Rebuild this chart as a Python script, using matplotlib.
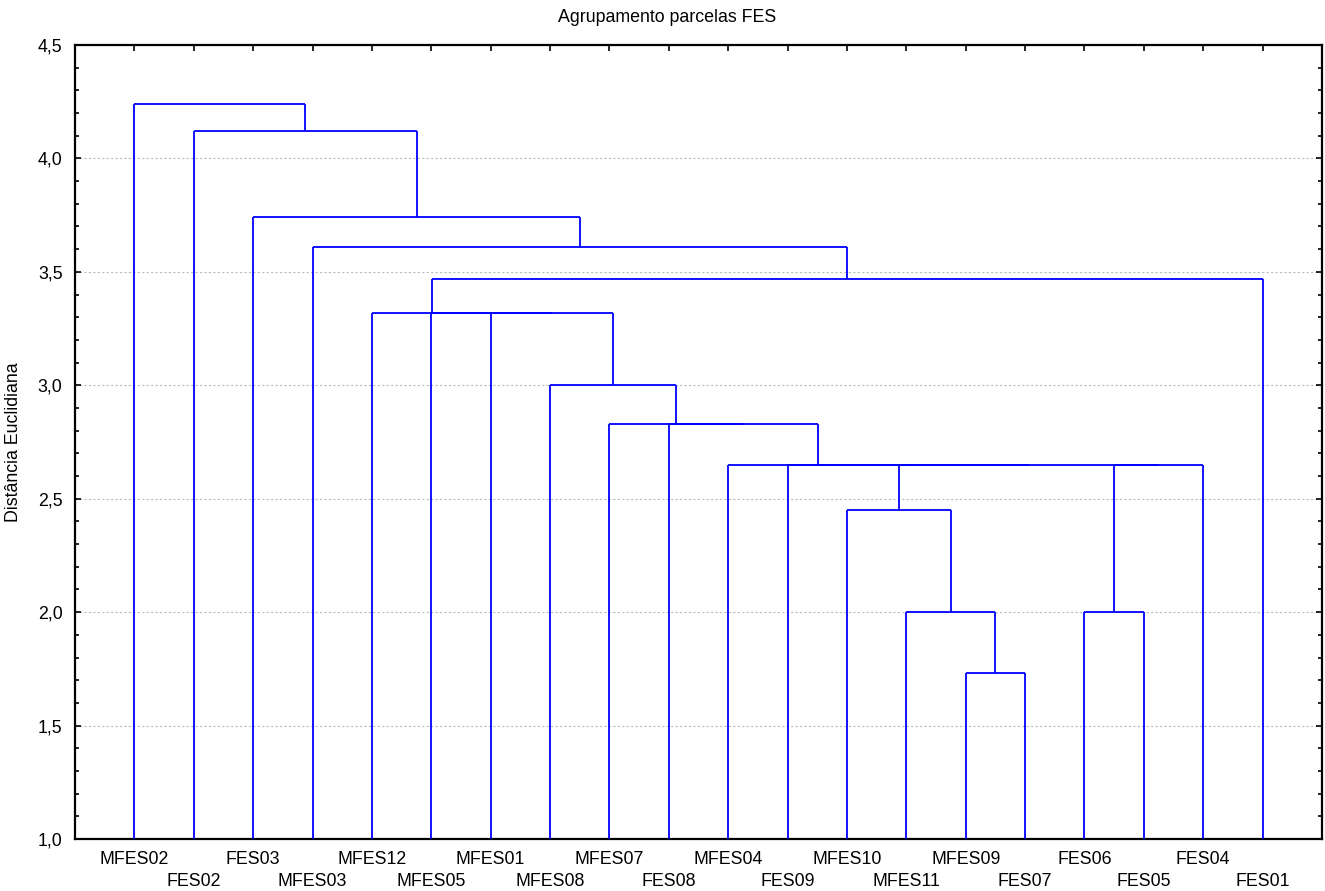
import matplotlib
matplotlib.use("Agg")
import matplotlib.pyplot as plt
from matplotlib.ticker import MultipleLocator, FuncFormatter

# Leaf order along the x axis
leaves = ["MFES02", "FES02", "FES03", "MFES03", "MFES12", "MFES05", "MFES01",
          "MFES08", "MFES07", "FES08", "MFES04", "FES09", "MFES10", "MFES11",
          "MFES09", "FES07", "FES06", "FES05", "FES04", "FES01"]

# Agglomeration steps: (left member, right member, linkage distance)
# members are leaf names or "#k" for the cluster formed at step k
merge_left = ["MFES09", "MFES11", "MFES10", "FES06", "#3", "#2", "FES09", "MFES04",
              "FES08", "MFES07", "MFES08", "MFES01", "MFES05", "MFES12", "#13",
              "MFES03", "FES03", "FES02", "MFES02"]
merge_right = ["FES07", "#0", "#1", "FES05", "FES04", "#4", "#5", "#6",
               "#7", "#8", "#9", "#10", "#11", "#12", "FES01",
               "#14", "#15", "#16", "#17"]
merge_height = [1.73, 2.00, 2.45, 2.00, 2.65, 2.65, 2.65, 2.65,
                2.83, 2.83, 3.00, 3.32, 3.32, 3.32, 3.47,
                3.61, 3.74, 4.12, 4.24]

FONT = ["Liberation Sans", "DejaVu Sans"]
FS = 12.8

fig = plt.figure(figsize=(13.25, 8.91), dpi=100)
ax = fig.add_axes([75 / 1325, 1 - 839 / 891, (1322 - 75) / 1325, (839 - 45) / 891])

line_kw = dict(color="#0000FF", lw=1.3, solid_capstyle="butt", zorder=3)

# anchor positions (x, y) of every node
anchor = {name: (i + 1, 1.0) for i, name in enumerate(leaves)}
for k, (a, b, h) in enumerate(zip(merge_left, merge_right, merge_height)):
    xa, ya = anchor[a]
    xb, yb = anchor[b]
    ax.plot([xa, xa], [ya, h], **line_kw)
    ax.plot([xb, xb], [yb, h], **line_kw)
    ax.plot([xa, xb], [h, h], **line_kw)
    anchor["#%d" % k] = ((xa + xb) / 2, h)

ax.set_xlim(0, len(leaves) + 1)
ax.set_ylim(1.0, 4.5)

ax.yaxis.set_major_locator(MultipleLocator(0.5))
ax.yaxis.set_minor_locator(MultipleLocator(0.1))
ax.yaxis.set_major_formatter(FuncFormatter(lambda v, p: ("%.1f" % v).replace(".", ",")))
ax.set_xticks(range(1, len(leaves) + 1))
ax.set_xticklabels([])

ax.tick_params(axis="both", which="both", direction="in", top=True, right=True,
               width=1.2, colors="black")
ax.tick_params(axis="x", which="both", bottom=False)
ax.tick_params(axis="both", which="major", length=4)
ax.tick_params(axis="y", which="minor", length=3)
ax.tick_params(axis="y", labelsize=FS, pad=9)

for s in ax.spines.values():
    s.set_linewidth(1.6)

ax.grid(axis="y", which="major", color="#BBBBBB", linestyle=(0, (2, 2)), lw=0.8, zorder=0)
ax.set_axisbelow(True)

# staggered leaf labels
for i, name in enumerate(leaves):
    yoff = -20 if i % 2 == 0 else -43
    ax.annotate(name, xy=(i + 1, 1.0), xycoords="data", xytext=(0, yoff),
                textcoords="offset pixels",
                ha="center", va="center", fontsize=FS, family=FONT)

for t in ax.get_yticklabels():
    t.set_family(FONT)
fig.text(14 / 1325, 1 - 442 / 891, "Distância Euclidiana", rotation=90,
         ha="center", va="center", fontsize=FS, family=FONT)
fig.text(667 / 1325, 1 - 18 / 891, "Agrupamento parcelas FES",
         ha="center", va="center", fontsize=FS, family=FONT)

fig.savefig("out.png", dpi=100)
